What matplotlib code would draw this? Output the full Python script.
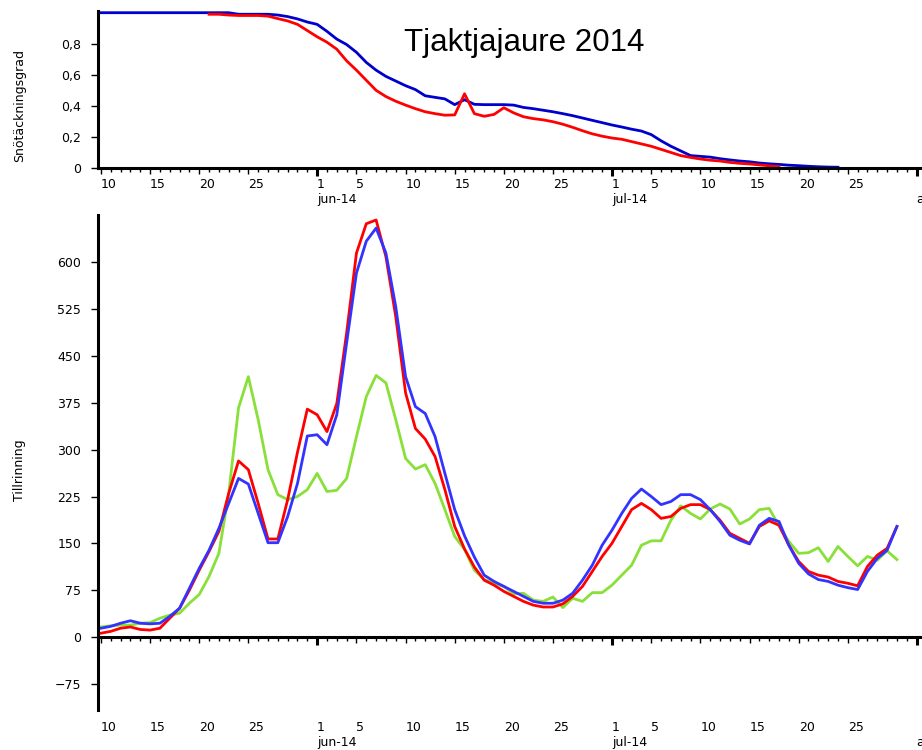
import numpy as np
import matplotlib
matplotlib.use("Agg")
import matplotlib.pyplot as plt
import matplotlib.dates as mdates
from matplotlib.ticker import FuncFormatter, FixedLocator

plt.rcParams['font.family'] = 'DejaVu Sans'

title = 'Tjaktjajaure 2014'
month_names = ['jan', 'feb', 'mar', 'apr', 'maj', 'jun',
               'jul', 'aug', 'sep', 'okt', 'nov', 'dec']

# snötäckningsgrad (daily)
snow_blue_start = '2014-05-09'
snow_blue = [1.0] * 15 + [
    0.99, 0.99, 0.99, 0.99, 0.985, 0.975, 0.96, 0.94, 0.925, 0.88,
    0.83, 0.795, 0.745, 0.68, 0.63, 0.59, 0.56, 0.53, 0.505, 0.465,
    0.455, 0.445, 0.408, 0.44, 0.41, 0.408, 0.408, 0.408, 0.405, 0.39,
    0.382, 0.372, 0.362, 0.35, 0.337, 0.322, 0.307, 0.292, 0.277, 0.264,
    0.25, 0.238, 0.215, 0.175, 0.14, 0.11, 0.08, 0.075, 0.07, 0.06,
    0.052, 0.045, 0.04, 0.032, 0.027, 0.023, 0.018, 0.015, 0.011, 0.008,
    0.006, 0.005]
snow_red_start = '2014-05-21'
snow_red = [
    0.99, 0.99, 0.985, 0.982, 0.982, 0.982, 0.978, 0.962, 0.947, 0.925,
    0.885, 0.845, 0.81, 0.765, 0.69, 0.63, 0.565, 0.5, 0.46, 0.43,
    0.405, 0.382, 0.362, 0.35, 0.34, 0.342, 0.478, 0.35, 0.333, 0.345,
    0.388, 0.355, 0.33, 0.318, 0.31, 0.298, 0.282, 0.262, 0.24, 0.22,
    0.205, 0.193, 0.185, 0.17, 0.155, 0.14, 0.12, 0.1, 0.08, 0.068,
    0.058, 0.05, 0.045, 0.036, 0.03, 0.026, 0.02, 0.014, 0.008]

# tillrinning (daily)
flow_start = '2014-05-09'
flow_red = [
    5, 6, 9, 14, 16, 12, 11, 14, 30, 46,
    75, 107, 137, 169, 230, 282, 268, 214, 157, 157,
    220, 296, 365, 356, 329, 374, 487, 615, 662, 668,
    609, 513, 391, 334, 317, 289, 236, 177, 141, 112,
    91, 83, 73, 65, 57, 51, 48, 48, 53, 65,
    81, 105, 129, 150, 177, 204, 214, 204, 190, 193,
    206, 212, 212, 204, 187, 166, 158, 150, 177, 186,
    179, 147, 121, 105, 99, 96, 89, 86, 82, 113,
    131, 142, 177]
flow_blue = [
    13, 14, 17, 22, 26, 22, 21, 22, 33, 46,
    78, 110, 139, 174, 214, 254, 245, 198, 151, 151,
    193, 246, 322, 324, 308, 356, 471, 583, 634, 655,
    615, 529, 417, 369, 358, 321, 262, 204, 162, 128,
    99, 89, 81, 73, 65, 57, 54, 54, 59, 70,
    91, 115, 147, 171, 198, 222, 237, 225, 212, 217,
    228, 228, 220, 204, 185, 163, 155, 149, 179, 190,
    185, 147, 118, 101, 92, 89, 83, 79, 76, 105,
    126, 139, 177]
flow_green = [
    16, 16, 18, 19, 19, 22, 23, 30, 35, 38,
    54, 68, 97, 134, 230, 367, 417, 348, 268, 228,
    220, 225, 236, 262, 233, 235, 254, 321, 385, 419,
    407, 348, 286, 269, 276, 246, 204, 161, 140, 107,
    92, 86, 81, 69, 70, 59, 57, 64, 47, 62,
    57, 71, 71, 83, 99, 115, 147, 154, 154, 187,
    210, 198, 189, 205, 213, 205, 181, 189, 204, 206,
    178, 153, 134, 135, 143, 121, 145, 129, 114, 129,
    123, 138, 124]

snow_ticks = [0, 0.2, 0.4, 0.6, 0.8]
flow_ticks = [-75, 0, 75, 150, 225, 300, 375, 450, 525, 600]


def days(start, values):
    return np.datetime64(start) + np.arange(len(values))


x0 = mdates.date2num(np.datetime64('2014-05-10')) - 0.3
x1 = mdates.date2num(np.datetime64('2014-08-01')) + 0.55


def day_label(x, pos):
    d = mdates.num2date(x)
    return '' if d.month > 7 else str(d.day)


def month_label(x, pos):
    d = mdates.num2date(x)
    return month_names[d.month - 1] + '-' + d.strftime('%y')


def date_axis(ax, day_pad, month_pad):
    ax.set_xlim(x0, x1)
    ax.xaxis.set_major_locator(mdates.DayLocator(bymonthday=[5, 10, 15, 20, 25]))
    ax.xaxis.set_minor_locator(mdates.DayLocator())
    ax.tick_params(axis='x', which='major', length=4.5, width=1.0, labelbottom=False)
    ax.tick_params(axis='x', which='minor', length=2.6, width=1.0)

    # month starts: thicker ticks on the zero line
    mon = ax.secondary_xaxis(0, transform=ax.transData)
    mon.spines['bottom'].set_visible(False)
    mon.xaxis.set_major_locator(mdates.MonthLocator())
    mon.tick_params(length=5.5, width=2.2, labelbottom=False)

    # labels under the axes
    lab = ax.secondary_xaxis(0)
    lab.spines['bottom'].set_visible(False)
    lab.xaxis.set_major_locator(mdates.DayLocator(bymonthday=[1, 5, 10, 15, 20, 25]))
    lab.xaxis.set_major_formatter(FuncFormatter(day_label))
    lab.tick_params(length=0, pad=day_pad, labelsize=9)
    plt.setp(lab.xaxis.get_majorticklabels(), ha='left')

    mlab = ax.secondary_xaxis(0)
    mlab.spines['bottom'].set_visible(False)
    mlab.xaxis.set_major_locator(mdates.MonthLocator())
    mlab.xaxis.set_major_formatter(FuncFormatter(month_label))
    mlab.tick_params(length=0, pad=month_pad, labelsize=9)
    plt.setp(mlab.xaxis.get_majorticklabels(), ha='left')


fig = plt.figure(figsize=(9.22, 7.5), dpi=100)
ax1 = fig.add_axes([98 / 922, 1 - 168 / 750, 1 - 98 / 922, 157 / 750])
ax2 = fig.add_axes([98 / 922, 1 - 710 / 750, 1 - 98 / 922, 495 / 750])

for ax in (ax1, ax2):
    for s in ('top', 'right'):
        ax.spines[s].set_visible(False)
    ax.spines['left'].set_linewidth(2.2)
    ax.spines['bottom'].set_linewidth(2.2)
    ax.tick_params(axis='y', length=5, width=1.0, pad=7, labelsize=9)

# top: snow cover
ax1.plot(days(snow_blue_start, snow_blue), snow_blue, color='#0000CC', lw=2.0)
ax1.plot(days(snow_red_start, snow_red), snow_red, color='#FF0000', lw=2.0)
ax1.set_ylim(0, 1.011)
ax1.yaxis.set_major_locator(FixedLocator(snow_ticks))
ax1.yaxis.set_major_formatter(FuncFormatter(lambda v, p: ('%g' % v).replace('.', ',')))
ax1.set_ylabel('Snötäckningsgrad', fontsize=9)
ax1.yaxis.set_label_coords(-0.087, 0.40)
date_axis(ax1, 7, 18)

# bottom: inflow
t = days(flow_start, flow_red)
ax2.plot(t, flow_green, color='#88E038', lw=2.0)
ax2.plot(t, flow_red, color='#FF0000', lw=2.0)
ax2.plot(t, flow_blue, color='#3333FF', lw=2.0)
ax2.set_ylim(-117, 676)
ax2.spines['bottom'].set_position(('data', 0))
ax2.yaxis.set_major_locator(FixedLocator(flow_ticks))
ax2.set_ylabel('Tillrinning', fontsize=9)
ax2.yaxis.set_label_coords(-0.087, 0.485)
date_axis(ax2, 8, 19)

fig.text(524.5 / 922, 1 - 51 / 750, title, fontsize=22.5, family='Liberation Sans',
         ha='center', va='baseline')

fig.savefig('out.png', dpi=100)
